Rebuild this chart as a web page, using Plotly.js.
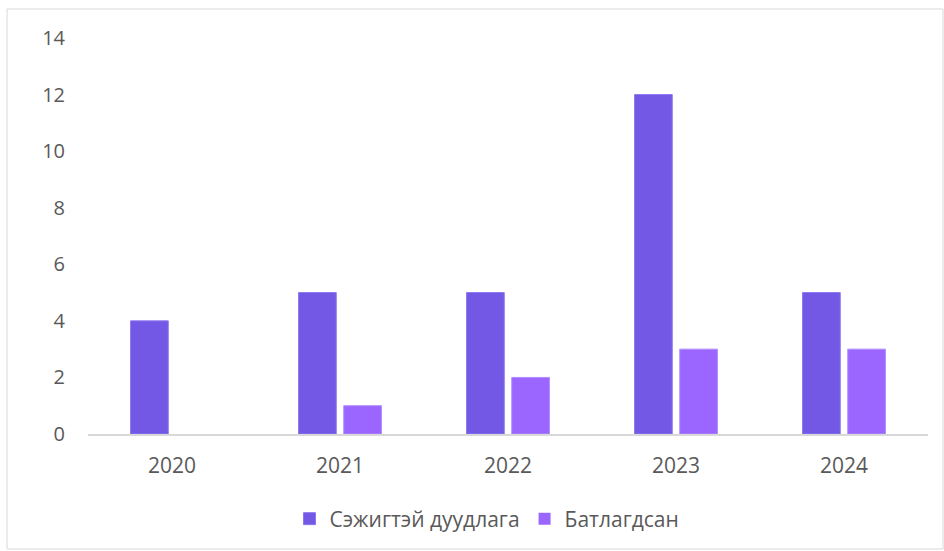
<!DOCTYPE html>
<html>
<head>
<meta charset="utf-8">
<script src="https://cdn.plot.ly/plotly-3.0.1.min.js"></script>
<style>html,body{margin:0;padding:0;background:#fff;}#chart{width:944px;height:551px;}</style>
</head>
<body>
<div id="chart"></div>
<script>
const years = ['2020', '2021', '2022', '2023', '2024'];
const seriesNames = ['Сэжигтэй дуудлага', 'Батлагдсан'];
const suspected = [4, 5, 5, 12, 5];
const confirmed = [0, 1, 2, 3, 3];
const yTicks = [0, 2, 4, 6, 8, 10, 12, 14];

const fam = 'Open Sans, Liberation Sans, sans-serif';
const yFont = {family: fam, size: 20, color: '#595959'};
const xFont = {family: fam, size: 21, color: '#595959'};
const legFont = {family: fam, size: 21, color: '#595959'};

const lineWidths = vals => vals.map(v => (v === 0 ? 0 : 1));

const traces = [
  {type: 'bar', name: seriesNames[0], x: years, y: suspected,
   marker: {color: '#7357E5', line: {color: '#8C78EE', width: lineWidths(suspected)}}},
  {type: 'bar', name: seriesNames[1], x: years, y: confirmed,
   marker: {color: '#9B66FF', line: {color: '#B08CFF', width: lineWidths(confirmed)}}}
];

const layout = {
  width: 944, height: 551,
  margin: {l: 88, r: 16, t: 38, b: 117},
  paper_bgcolor: '#fff', plot_bgcolor: '#fff',
  font: yFont,
  barmode: 'group', bargap: 0.462, bargroupgap: 0.166,
  showlegend: true,
  legend: {orientation: 'h', x: 0.475, xanchor: 'center', y: -0.2146, yanchor: 'middle',
           font: legFont, itemwidth: 30, traceorder: 'normal'},
  xaxis: {type: 'category', showgrid: false, zeroline: false, showline: true,
          linecolor: '#D9D9D9', linewidth: 2, ticks: '', ticklabelstandoff: 12,
          tickfont: xFont, fixedrange: true},
  yaxis: {range: [0, 14], tickvals: yTicks, ticktext: yTicks.map(String),
          showgrid: false, zeroline: false, showline: false, ticks: '',
          ticklabelstandoff: 22, tickfont: yFont, fixedrange: true},
  shapes: [{type: 'rect', xref: 'paper', yref: 'paper',
            x0: -0.0964, x1: 1.0179, y0: -0.2904, y1: 1.0732,
            line: {color: '#D9D9D9', width: 1}, fillcolor: 'rgba(0,0,0,0)', layer: 'below'}]
};

Plotly.newPlot('chart', traces, layout, {displayModeBar: false, staticPlot: true});
</script>
</body>
</html>
